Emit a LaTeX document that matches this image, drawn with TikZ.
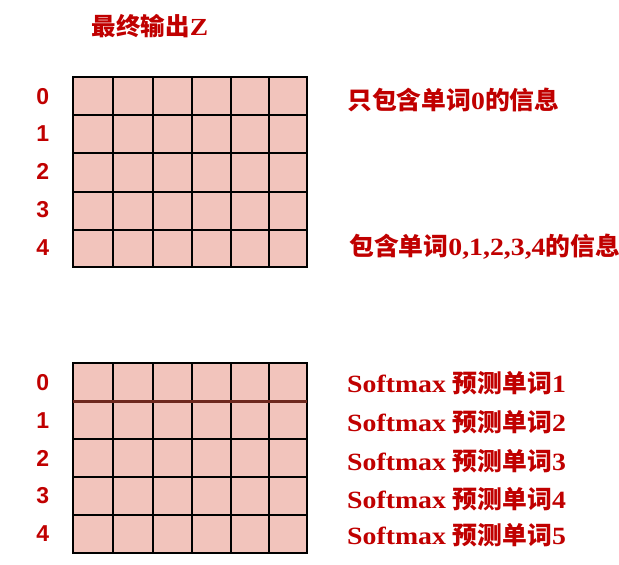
\documentclass[tikz,border=0pt]{standalone}
\usepackage{fontspec}
\setmainfont{Liberation Serif}
\newfontfamily\cjk{Noto Sans CJK SC}
\newfontfamily\lat[FakeStretch=1.12]{Liberation Serif}
\newfontfamily\numf{Liberation Sans}
\definecolor{txtred}{RGB}{192,0,0}
\definecolor{cellfill}{RGB}{242,196,188}
\definecolor{rowsep}{RGB}{110,40,30}
\begin{document}
\begin{tikzpicture}[x=1pt,y=-1pt,
  gridline/.style={draw=black, line width=2.3pt, line cap=rect},
  rowlbl/.style={text=txtred, font=\fontsize{23}{23}\selectfont\numf\bfseries, inner sep=0pt},
  note/.style={text=txtred, anchor=west, inner sep=0pt, font=\fontsize{24.8}{25}\selectfont\bfseries},
  title/.style={text=txtred, inner sep=0pt, font=\fontsize{24.5}{25}\selectfont\bfseries}]
\useasboundingbox (0,0) rectangle (619,565);

% title
\node[title] (ttl) at (150,26) {{\cjk 最终输出}{\lat Z}};

% top grid
\fill[cellfill] (73.3,76.7) rectangle (307.3,267.3);
\foreach \x in {73.3,113.3,152.7,191.7,230.7,269.3,307.3}
  \draw[gridline] (\x,76.7) -- (\x,267.3);
\foreach \y in {76.7,115,152.7,191.7,230,267.3}
  \draw[gridline] (73.3,\y) -- (307.3,\y);

% bottom grid
\fill[cellfill] (73.3,363.3) rectangle (307.3,553.3);
\foreach \x in {73.3,113.3,152.7,191.7,230.7,269.3,307.3}
  \draw[gridline] (\x,363.3) -- (\x,553.3);
\foreach \y in {363.3,439,476.7,515,553.3}
  \draw[gridline] (73.3,\y) -- (307.3,\y);
\draw[line width=3pt, draw=rowsep] (73.3,401.7) -- (307.3,401.7);

% top row labels
\node[rowlbl] (ta) at (42.7,97) {0};
\node[rowlbl] (tb) at (42.7,134) {1};
\node[rowlbl] (tc) at (42.7,171.5) {2};
\node[rowlbl] (td) at (42.7,209.5) {3};
\node[rowlbl] (te) at (42.7,247.5) {4};

% bottom row labels
\node[rowlbl] (ba) at (42.7,383) {0};
\node[rowlbl] (bb) at (42.7,420.5) {1};
\node[rowlbl] (bc) at (42.7,458) {2};
\node[rowlbl] (bd) at (42.7,495.5) {3};
\node[rowlbl] (be) at (42.7,534) {4};

% right notes, top
\node[note] (n0) at (347,100) {{\cjk 只包含单词}{\lat 0}{\cjk 的信息}};
\node[note] (n4) at (349,247) {{\cjk 包含单词}{\lat 0,1,2,3,4}{\cjk 的信息}};

% right notes, bottom
\node[note] (s1) at (347,383) {{\lat Softmax }{\cjk 预测单词}{\lat 1}};
\node[note] (s2) at (347,422) {{\lat Softmax }{\cjk 预测单词}{\lat 2}};
\node[note] (s3) at (347,461) {{\lat Softmax }{\cjk 预测单词}{\lat 3}};
\node[note] (s4) at (347,499) {{\lat Softmax }{\cjk 预测单词}{\lat 4}};
\node[note] (s5) at (347,535) {{\lat Softmax }{\cjk 预测单词}{\lat 5}};
\end{tikzpicture}
\end{document}
